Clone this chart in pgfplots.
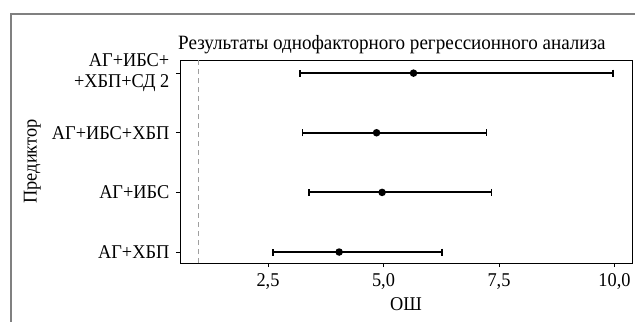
\documentclass[border=0pt]{standalone}
\usepackage{pgfplots}
\pgfplotsset{compat=1.18}
\usepackage{fontspec}
\setmainfont[FakeStretch=0.94]{Liberation Serif}
\begin{document}
\fontsize{19.5bp}{21bp}\selectfont
\begin{tikzpicture}[x=1bp,y=1bp]
\useasboundingbox (-180,-58) rectangle (455,263);
\draw[line width=2.5bp, gray] (-169,-60) -- (-169,249) -- (457,249);
\begin{axis}[
  name=ax,
  scale only axis, width=452bp, height=203bp,
  at={(0,0)}, anchor=south west,
  xmin=0.595, xmax=10.38, ymin=0.816, ymax=4.22,
  xtick={2.5,5,7.5,10}, xticklabels={{2,5},{5,0},{7,5},{10,0}},
  ytick={1,2,3,4},
  yticklabels={АГ+ХБП, АГ+ИБС, АГ+ИБС+ХБП, {АГ+ИБС+\\+ХБП+СД 2}},
  yticklabel style={align=right},
  tick align=outside, major tick length=4bp,
  tick style={black, line width=0.8bp},
  xtick pos=bottom, ytick pos=left,
  axis line style={black, line width=0.9bp},
  font=\fontsize{19.5bp}{21bp}\selectfont,
  xlabel={ОШ}, ylabel={Предиктор},
  xlabel style={yshift=5bp},
  ylabel style={yshift=-2bp},
]
\addplot[gray!75, dash pattern=on 5bp off 4bp, line width=0.9bp] coordinates {(1,0.816) (1,4.22)};
\addplot[black, line width=1.8bp, mark=*, mark size=2.8bp,
  error bars/.cd, x dir=both, x explicit,
  error bar style={line width=1.8bp},
  error mark options={rotate=90, mark size=3.5bp, line width=1.4bp}]
  table[x=or, y=pos, x error plus=ep, x error minus=em, only marks] {
pos or em ep
4 5.65 2.46 4.32
3 4.85 1.60 2.38
2 4.97 1.58 2.37
1 4.04 1.43 2.23
};
\end{axis}
\node[anchor=base west, inner sep=0pt, xshift=-2bp, yshift=10bp, font=\fontsize{20.3bp}{22bp}\selectfont] at (ax.north west) {Результаты однофакторного регрессионного анализа};
\end{tikzpicture}
\end{document}
